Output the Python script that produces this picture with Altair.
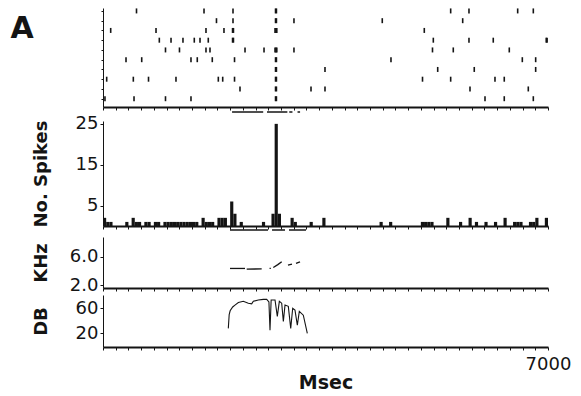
import altair as alt
import pandas as pd

# ---------------- data ----------------
# raster: spike times (ms) per trial, trial 1 at top
trial_1 = [527, 1589, 2045, 2714, 2728, 5469, 5757, 6523, 6769]
trial_2 = [1785, 2045, 2714, 2728, 3004, 4393, 5658]
trial_3 = [121, 834, 1620, 1903, 2038, 2052, 2706, 2720, 2734, 5054]
trial_4 = [886, 1070, 1258, 1436, 1526, 1656, 2038, 2052, 5196, 5757, 6139, 6972, 6986]
trial_5 = [983, 1203, 1620, 1683, 2234, 2533, 2706, 2720, 2734, 3004, 5183, 5510, 6391]
trial_6 = [362, 609, 1384, 1483, 1719, 2069, 2714, 2728, 4530, 6596, 6806]
trial_7 = [2714, 2728, 3492, 5265, 5840, 6806]
trial_8 = [58, 477, 716, 1148, 1814, 1883, 2069, 2714, 2728, 5026, 5469, 6166, 6312]
trial_9 = [2155, 2714, 2728, 3272, 3492, 5773, 6690]
trial_10 = [31, 488, 983, 1384, 2714, 2728, 6009, 6312, 6769]
trials = [trial_1, trial_2, trial_3, trial_4, trial_5,
          trial_6, trial_7, trial_8, trial_9, trial_10]

# PSTH: 50 ms bins (bin start, spike count), empty bins omitted
psth_bin = 50
psth_start = [0, 50, 100, 350, 450, 500, 550, 650, 700, 800, 850, 950, 1000,
              1050, 1100, 1150, 1200, 1250, 1300, 1350, 1400, 1450, 1550, 1600,
              1650, 1700, 1800, 1850, 1900, 2000, 2050, 2150, 2500, 2650, 2700,
              2750, 2950, 3000, 3250, 3450, 4350, 4500, 5000, 5050, 5100, 5150,
              5400, 5600, 5750, 5850, 6000, 6150, 6300, 6450, 6500, 6550, 6700,
              6750, 6800, 6950]
psth_count = [2, 1, 1, 1, 2, 1, 1, 1, 1, 1, 1, 1, 1,
              1, 1, 1, 1, 1, 1, 1, 1, 1, 2, 1,
              1, 1, 2, 2, 2, 6, 3, 1, 1, 3, 25,
              3, 2, 1, 1, 2, 1, 1, 1, 1, 1, 1,
              2, 1, 2, 1, 1, 1, 2, 1, 1, 1, 1,
              1, 2, 2]

# stimulus markers (ms)
stim_raster_start = [2030, 2580, 2930, 3060]
stim_raster_end = [2520, 2900, 2980, 3100]
stim_psth_start = [1998, 2659, 2926]
stim_psth_end = [2596, 2863, 3193]

# frequency trace (kHz)
khz_ms = [1998, 2234, 2260, 2496, 2620, 2640, 2679, 2750, 2811, 2910, 2973, 3036, 3099]
khz_val = [4.36, 4.36, 4.26, 4.30, 4.36, 4.36, 4.50, 4.90, 5.30, 4.83, 4.97, 5.07, 5.30]
khz_seg = [1, 1, 2, 2, 3, 3, 4, 4, 4, 5, 5, 6, 6]

# amplitude trace (dB)
db_ms = [1971, 1985, 2000, 2040, 2076, 2129, 2207, 2286, 2339, 2365, 2443, 2522,
         2575, 2610, 2627, 2645, 2670, 2706, 2742, 2774, 2811, 2837, 2863, 2915,
         2953, 2984, 3020, 3057, 3088, 3151, 3214]
db_val = [28, 50, 56, 62, 65, 69, 71, 68, 67, 71, 73, 74,
          74, 70, 25, 73, 73, 73, 47, 71, 68, 39, 65, 63,
          28, 60, 57, 33, 55, 49, 20]

x_tick_values = list(range(0, 7001, 200))

# ---------------- styling ----------------
FONT = "DejaVu Sans"
INK = "#141414"
W = 445
YEXT = 48

x_scale = alt.Scale(domain=[0, 7000], nice=False, zero=False, padding=0)


def y_scale(lo, hi, reverse=False):
    if reverse:
        return alt.Scale(domain=[lo, hi], nice=False, zero=False, padding=0,
                         reverse=True)
    return alt.Scale(domain=[lo, hi], nice=False, zero=False, padding=0)


def x_axis(min_extent, with_label=False):
    kw = dict(values=x_tick_values, tickSize=3, tickWidth=1, tickColor=INK,
              domainColor=INK, domainWidth=2, grid=False, minExtent=min_extent)
    if with_label:
        kw.update(labels=True, labelExpr="datum.value == 7000 ? '7000' : ''",
                  labelFont=FONT, labelFontSize=18, labelColor=INK,
                  labelPadding=5, labelFlush=False, labelOverlap=False,
                  title="Msec", titleFont=FONT, titleFontSize=19,
                  titleFontWeight="bold", titleColor=INK, titlePadding=0)
    else:
        kw.update(labels=False, title=None)
    return alt.Axis(**kw)


def y_axis(values, title, fmt=None):
    kw = dict(values=values, tickSize=3, tickColor=INK, domainColor=INK,
              domainWidth=1, grid=False, labelFont=FONT, labelFontSize=18,
              labelColor=INK, labelPadding=2, title=title, titleFont=FONT,
              titleFontSize=18, titleFontWeight="bold", titleColor=INK,
              titlePadding=5, minExtent=YEXT, maxExtent=YEXT)
    if fmt:
        kw["format"] = fmt
    return alt.Axis(**kw)


# ---------------- raster ----------------
raster_df = pd.DataFrame(
    [{"ms": t, "trial": i + 1} for i, tr in enumerate(trials) for t in tr])
stim1_df = pd.DataFrame({"ms": stim_raster_start, "ms_end": stim_raster_end})

raster_y_axis = alt.Axis(values=list(range(1, 11)), labels=False, tickSize=2,
                         tickColor=INK, domainColor=INK, domainWidth=1, grid=False,
                         title="A", titleAngle=0, titleAlign="left",
                         titleBaseline="top", titleX=-93, titleY=5, titleFont=FONT,
                         titleFontSize=30, titleFontWeight="bold", titleColor=INK,
                         minExtent=YEXT, maxExtent=YEXT)

spikes = alt.Chart(raster_df).mark_tick(
    orient="vertical", size=5, thickness=1.6, color=INK, opacity=1
).encode(
    x=alt.X("ms:Q", scale=x_scale, axis=x_axis(7)),
    y=alt.Y("trial:Q", scale=y_scale(0.7, 10.85, reverse=True), axis=raster_y_axis),
)
stim1 = alt.Chart(stim1_df).mark_rule(strokeWidth=1.5, color=INK).encode(
    x=alt.X("ms:Q", scale=x_scale, axis=x_axis(7)),
    x2="ms_end:Q",
    y=alt.value(104),
)
raster = alt.layer(spikes, stim1).properties(width=W, height=99)

# ---------------- PSTH ----------------
psth_df = pd.DataFrame({"ms": psth_start, "count": psth_count})
stim2_df = pd.DataFrame({"ms": stim_psth_start, "ms_end": stim_psth_end})

bars = alt.Chart(psth_df).transform_calculate(
    ms_end=f"datum.ms + {psth_bin}"
).mark_rect(color=INK).encode(
    x=alt.X("ms:Q", scale=x_scale, axis=x_axis(11)),
    x2="ms_end:Q",
    y=alt.Y("count:Q", scale=y_scale(0, 25.7), axis=y_axis([5, 15, 25], "No. Spikes")),
    y2=alt.datum(0),
)
stim2 = alt.Chart(stim2_df).mark_rule(strokeWidth=1.5, color=INK).encode(
    x=alt.X("ms:Q", scale=x_scale, axis=x_axis(11)),
    x2="ms_end:Q",
    y=alt.value(109),
)
psth = alt.layer(bars, stim2).properties(width=W, height=105)

# ---------------- kHz ----------------
khz_df = pd.DataFrame({"ms": khz_ms, "khz": khz_val, "seg": khz_seg})
khz = alt.Chart(khz_df).mark_line(color=INK, strokeWidth=1.3).encode(
    x=alt.X("ms:Q", scale=x_scale, axis=x_axis(7)),
    y=alt.Y("khz:Q", scale=y_scale(1.6, 8.8), axis=y_axis([2, 6], "KHz", ".1f")),
    detail="seg:N",
).properties(width=W, height=51)

# ---------------- dB ----------------
db_df = pd.DataFrame({"ms": db_ms, "db": db_val})
db = alt.Chart(db_df).mark_line(color=INK, strokeWidth=1.1).encode(
    x=alt.X("ms:Q", scale=x_scale, axis=x_axis(3, with_label=True)),
    y=alt.Y("db:Q", scale=y_scale(-1.5, 81), axis=y_axis([20, 60], "DB")),
).properties(width=W, height=52)

chart = alt.vconcat(raster, psth, khz, db, spacing=0).properties(
    padding={"left": 10, "top": 8, "right": 4, "bottom": 2},
    background="white",
).configure_view(strokeWidth=0)

chart.save("out.html", embed_options={"renderer": "svg", "actions": False})
